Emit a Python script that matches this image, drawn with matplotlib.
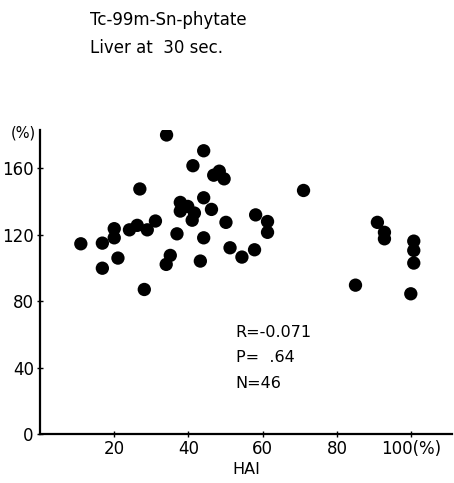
import matplotlib
matplotlib.use('Agg')
import matplotlib.pyplot as plt

# ── Data (HAI %, liver uptake %) ─────────────────────────────────────────────
hai = [34.1, 44.1, 41.2, 48.3, 46.8, 49.6, 26.9, 44.1, 37.8, 39.8,
       46.2, 37.8, 41.6, 41.0, 58.1, 50.1, 31.1, 26.2, 24.1, 28.9,
       20.0, 20.0, 16.8, 11.0, 36.9, 44.1, 51.2, 54.4, 57.8, 21.0,
       16.8, 35.1, 34.0, 43.2, 28.1, 71.0, 61.3, 61.3, 90.9, 92.8,
       92.8, 100.7, 100.7, 100.7, 85.0, 99.9]
liver = [180.0, 170.5, 161.5, 158.2, 155.8, 153.6, 147.5, 142.2, 139.4, 137.0,
         135.2, 134.2, 133.0, 128.7, 131.9, 127.4, 128.2, 125.6, 122.9, 122.9,
         123.6, 118.1, 114.9, 114.5, 120.5, 118.1, 112.1, 106.5, 110.9, 105.9,
         99.8, 107.5, 102.1, 104.1, 87.0, 146.6, 127.9, 121.4, 127.4, 121.4,
         117.5, 116.1, 110.5, 102.9, 89.6, 84.4]

x_ticks = [20, 40, 60, 80, 100]
x_tick_labels = ['20', '40', '60', '80', '100(%)']
y_ticks = [0, 40, 80, 120, 160]
stats_lines = ['R=-0.071', 'P=  .64', 'N=46']

plt.rcParams['font.family'] = 'DejaVu Sans'

fig = plt.figure(figsize=(4.54, 4.83), dpi=100)
ax = fig.add_axes([40 / 454, 49 / 483, 412 / 454, 304 / 483])

ax.scatter(hai, liver, s=92, c='black', edgecolors='none', zorder=3)

ax.set_xlim(0, 111)
ax.set_ylim(0, 183)
ax.spines['top'].set_visible(False)
ax.spines['right'].set_visible(False)
for sp in ('left', 'bottom'):
    ax.spines[sp].set_linewidth(1.6)

ax.set_xticks(x_ticks)
ax.set_xticklabels(x_tick_labels)
ax.set_yticks(y_ticks)
ax.tick_params(direction='inout', length=5, width=1, labelsize=12, pad=2)
ax.set_xlabel('HAI', fontsize=11.5, labelpad=3)

# "(%)" at the top of the y axis
ax.text(-0.01, 0.99, '(%)', transform=ax.transAxes, ha='right', va='center',
        fontsize=10.5)

# stats
for i, s in enumerate(stats_lines):
    ax.text(0.475, 0.335 - i * 0.085, s, transform=ax.transAxes,
            ha='left', va='center', fontsize=11.5)

# header text
fig.text(90 / 454, 1 - 20 / 483, 'Tc-99m-Sn-phytate', ha='left', va='center',
         fontsize=12)
fig.text(90 / 454, 1 - 48 / 483, 'Liver at  30 sec.', ha='left', va='center',
         fontsize=12)

plt.savefig('out.png', dpi=100, facecolor='white')
